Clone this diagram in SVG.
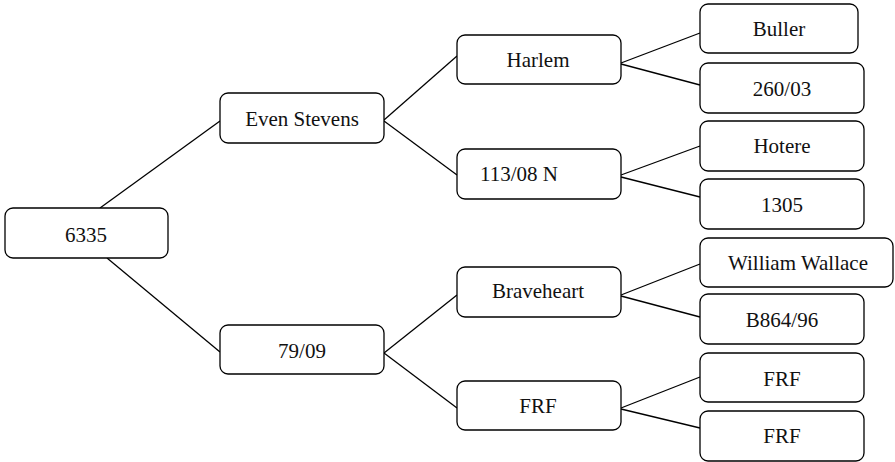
<svg xmlns="http://www.w3.org/2000/svg" width="895" height="462" viewBox="0 0 895 462">
<style>
.n rect{fill:#fff;stroke:#000;stroke-width:1.3}
.n text{font-family:'Liberation Serif','Times New Roman',Tinos,'DejaVu Serif',serif;font-size:21px;fill:#111;text-anchor:middle}
#edges line{stroke:#000;stroke-width:1.3}
</style>
<rect width="895" height="462" fill="#fff"/>
<g id="edges">
<line x1="100" y1="208" x2="220" y2="121"/>
<line x1="107" y1="258" x2="220" y2="352"/>
<line x1="384" y1="120" x2="457" y2="56"/>
<line x1="384" y1="121" x2="457" y2="175"/>
<line x1="384" y1="353" x2="457" y2="295"/>
<line x1="384" y1="353" x2="457" y2="408"/>
<line x1="621" y1="63" x2="700" y2="33"/>
<line x1="621" y1="64" x2="700" y2="85"/>
<line x1="621" y1="175" x2="700" y2="146"/>
<line x1="621" y1="177" x2="700" y2="197"/>
<line x1="621" y1="295" x2="700" y2="264"/>
<line x1="621" y1="296" x2="700" y2="317"/>
<line x1="621" y1="408" x2="700" y2="377"/>
<line x1="621" y1="409" x2="700" y2="428"/>
</g>
<g id="n6335" class="n"><rect x="5" y="208" width="163" height="50" rx="8"/><text x="86" y="242">6335</text></g>
<g id="nEven" class="n"><rect x="220" y="93" width="164" height="50" rx="8"/><text x="302" y="126">Even Stevens</text></g>
<g id="n7909" class="n"><rect x="220" y="325" width="164" height="49" rx="8"/><text x="302" y="358">79/09</text></g>
<g id="nHarlem" class="n"><rect x="457" y="35" width="164" height="49" rx="8"/><text x="538" y="67">Harlem</text></g>
<g id="n11308" class="n"><rect x="457" y="149" width="164" height="50" rx="8"/><text x="480" y="181" style="text-anchor:start">113/08 N</text></g>
<g id="nBrave" class="n"><rect x="457" y="267" width="164" height="50" rx="8"/><text x="538" y="298">Braveheart</text></g>
<g id="nFRFm" class="n"><rect x="457" y="381" width="164" height="49" rx="8"/><text x="538" y="413">FRF</text></g>
<g id="nBuller" class="n"><rect x="700" y="4" width="158" height="49" rx="8"/><text x="779" y="36">Buller</text></g>
<g id="n26003" class="n"><rect x="700" y="63" width="164" height="50" rx="8"/><text x="782" y="96">260/03</text></g>
<g id="nHotere" class="n"><rect x="700" y="121" width="164" height="50" rx="8"/><text x="782" y="153">Hotere</text></g>
<g id="n1305" class="n"><rect x="700" y="179" width="164" height="50" rx="8"/><text x="782" y="212">1305</text></g>
<g id="nWW" class="n"><rect x="700" y="238" width="193" height="49" rx="8"/><text x="798" y="270">William Wallace</text></g>
<g id="nB864" class="n"><rect x="700" y="294" width="164" height="50" rx="8"/><text x="782" y="327">B864/96</text></g>
<g id="nFRF1" class="n"><rect x="700" y="353" width="164" height="49" rx="8"/><text x="782" y="386">FRF</text></g>
<g id="nFRF2" class="n"><rect x="700" y="411" width="164" height="50" rx="8"/><text x="782" y="443">FRF</text></g>
</svg>
